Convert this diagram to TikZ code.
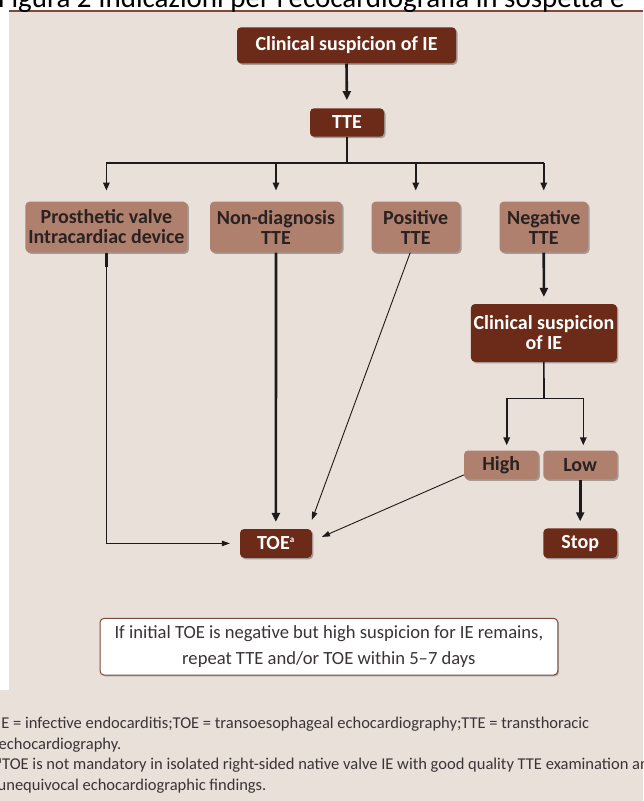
\documentclass[tikz,border=0pt]{standalone}
\usepackage{fontspec}
\setmainfont{Carlito}
\usetikzlibrary{arrows.meta,shadows,calc}
\definecolor{bg}{HTML}{EAE0DA}
\definecolor{darkbox}{HTML}{6B2B18}
\definecolor{lightbox}{HTML}{B0806F}
\definecolor{rule}{HTML}{82493A}
\definecolor{ink}{HTML}{1E1A1A}
\definecolor{boxtext}{HTML}{2A2220}
\definecolor{foot}{HTML}{3A3436}
\definecolor{noteborder}{HTML}{7A4A3C}
\begin{document}
\begin{tikzpicture}[x=1pt,y=-1pt,
  boxbase/.style={rounded corners=4pt, align=center, inner sep=0pt,
     font=\bfseries\fontsize{20}{20}\selectfont,
     drop shadow={shadow xshift=1.5pt, shadow yshift=-1.5pt, opacity=0.3, fill=black}},
  darkb/.style={boxbase, fill=darkbox, text=white},
  lightb/.style={boxbase, fill=lightbox, text=boxtext},
  thkline/.style={draw=ink, line width=2.6pt},
  medline/.style={draw=ink, line width=1.6pt},
  thnline/.style={draw=ink, line width=0.9pt},
  thkarrow/.style={thkline, -{Triangle[length=9pt,width=8pt]}},
  medarrow/.style={medline, -{Triangle[length=8pt,width=6.5pt]}},
  thnarrow/.style={thnline, -{Triangle[length=8pt,width=5.5pt]}},
  footline/.style={anchor=base west, inner sep=0pt, text=foot, font=\fontsize{16.5}{18}\selectfont}
]
\useasboundingbox (0,0) rectangle (643,801);
\clip (0,0) rectangle (643,801);
% background
\fill[white] (0,0) rectangle (643,801);
\fill[bg] (9,12) rectangle (643,801);
\fill[bg] (0,690) rectangle (9,801);
\draw[rule, line width=2pt] (9,10.5) -- (643,10.5);
% title (cut off at top)
\node[anchor=base west, inner sep=0pt, font=\fontsize{29}{30}\selectfont] (title) at (-2,7) {Figura 2 Indicazioni per l’ecocardiografia in sospetta e};

% nodes
\node[darkb, minimum width=219pt, minimum height=36pt] (cs1) at (346.5,45.3) {Clinical suspicion of IE};
\node[darkb, minimum width=74pt, minimum height=28.4pt] (tte) at (347,122.5) {TTE};
\node[lightb, minimum width=162pt, minimum height=50.6pt] (b1) at (106.4,227) {Prosthetic valve\\Intracardiac device};
\node[lightb, minimum width=132pt, minimum height=50.6pt] (b2) at (276,227) {Non-diagnosis\\TTE};
\node[lightb, minimum width=88.5pt, minimum height=50.6pt] (b3) at (415.75,227) {Positive\\TTE};
\node[lightb, minimum width=88.5pt, minimum height=50.6pt] (b4) at (543.75,227) {Negative\\TTE};
\node[darkb, minimum width=146pt, minimum height=57.7pt] (cs2) at (543.9,332.9) {Clinical suspicion\\of IE};
\node[lightb, minimum width=74.3pt, minimum height=28.8pt] (high) at (501.2,464.9) {High};
\node[lightb, minimum width=73.7pt, minimum height=28.8pt] (low) at (580.2,464.9) {Low};
\node[darkb, minimum width=73.7pt, minimum height=29.5pt] (stop) at (580.2,543.2) {Stop};
\node[darkb, minimum width=71.7pt, minimum height=28.7pt] (toe) at (275.9,543.4) {TOE\textsuperscript{\fontsize{9}{9}\selectfont a}};
\node[draw=noteborder, line width=1pt, fill=white, rounded corners=4pt, inner sep=0pt,
      minimum width=457.7pt, minimum height=56.7pt, align=center, text=foot,
      font=\fontsize{18.6}{25.6}\selectfont,
      drop shadow={shadow xshift=1.2pt, shadow yshift=-1.2pt, opacity=0.25, fill=black}] (note) at (328.9,646.7)
  {If initial TOE is negative but high suspicion for IE remains,\\repeat TTE and/or TOE within 5–7 days};

% footnotes
\node[footline] (f1) at (-3,728.5) {IE = infective endocarditis;TOE = transoesophageal echocardiography;TTE = transthoracic};
\node[footline] (f2) at (-1.5,749) {echocardiography.};
\node[footline] (f3) at (-4,769.5) {\textsuperscript{a}TOE is not mandatory in isolated right-sided native valve IE with good quality TTE examination and};
\node[footline] (f4) at (-2.5,790) {unequivocal echocardiographic findings.};

% connectors
\draw[thkarrow, shorten >=8pt] (cs1.south) -- (tte.north);
\coordinate (brT) at (347,162.7);
\draw[thkline] (tte.south) -- (brT);
\draw[medline] (b1.north |- brT) -- (b4.north |- brT);
\foreach \b in {b1,b2,b3,b4}{
  \draw[medarrow, shorten >=11pt] (\b.north |- brT) -- (\b.north);
}
% prosthetic valve -> TOE
\coordinate (stub) at ($(b1.south)+(0,14.5)$);
\draw[thkline] (b1.south) -- (stub);
\draw[thnarrow, shorten >=10pt] (stub) |- (toe.west);
% non-diagnosis -> TOE
\draw[thkarrow, shorten >=7pt] (b2.south) -- (toe.north);
% positive -> TOE
\draw[thnarrow] ([xshift=-5.5pt]b3.south) -- ([yshift=9pt]toe.north east);
% negative -> clinical suspicion
\draw[thkarrow, shorten >=7pt] (b4.south) -- (cs2.north);
% clinical suspicion -> high / low
\coordinate (brC) at (544,398.3);
\coordinate (hA) at (506.7,398.3);
\coordinate (lA) at (583.3,398.3);
\draw[medline] (cs2.south) -- (brC);
\draw[medline] (hA) -- (lA);
\draw[medarrow, shorten >=5pt] (hA) -- (hA |- high.north);
\draw[medarrow, shorten >=5pt] (lA) -- (lA |- low.north);
% high -> TOE
\draw[thnarrow] ([yshift=-10pt]high.west) -- ([xshift=10pt,yshift=6.5pt]toe.east);
% low -> stop
\draw[thkarrow, shorten >=7pt] (low.south) -- (stop.north);
\end{tikzpicture}
\end{document}
